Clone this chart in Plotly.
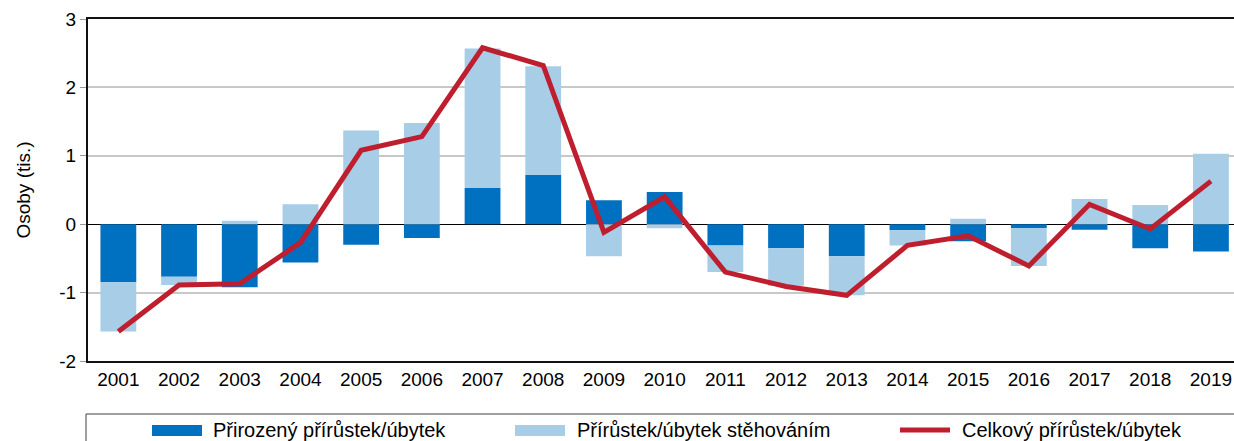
import plotly.graph_objects as go

years = [str(y) for y in range(2001, 2020)]
natural = [-0.85, -0.77, -0.92, -0.56, -0.30, -0.20, 0.53, 0.72, 0.35, 0.47,
           -0.31, -0.35, -0.47, -0.09, -0.25, -0.06, -0.08, -0.35, -0.40]
migration = [-0.72, -0.12, 0.05, 0.29, 1.37, 1.48, 2.04, 1.59, -0.47, -0.06,
             -0.39, -0.55, -0.57, -0.22, 0.08, -0.55, 0.37, 0.28, 1.03]
total = [-1.57, -0.89, -0.87, -0.27, 1.08, 1.28, 2.58, 2.32, -0.12, 0.40,
         -0.70, -0.91, -1.04, -0.31, -0.17, -0.61, 0.29, -0.07, 0.63]
y_ticks = [-2, -1, 0, 1, 2, 3]
y_tick_labels = ["-2", "-1", "0", "1", "2", "3"]

names = ["Přirozený přírůstek/úbytek", "Přírůstek/úbytek stěhováním", "Celkový přírůstek/úbytek"]
c_nat = "#0070C0"
c_mig = "#A7CDE7"
c_tot = "#BE1E2D"
FONT = "Liberation Sans, Arial, sans-serif"

W, H = 1234, 441
ML, MR, MT, MB = 88, 0, 19, 80
PW = W - ML - MR
PH = H - MT - MB

def px(x):
    return (x - ML) / PW

def py(y):
    return (H - MB - y) / PH

fig = go.Figure()
fig.add_trace(go.Bar(x=years, y=natural, name=names[0], marker=dict(color=c_nat, line=dict(width=0)), width=0.59))
fig.add_trace(go.Bar(x=years, y=migration, name=names[1], marker=dict(color=c_mig, line=dict(width=0)), width=0.59))
fig.add_trace(go.Scatter(x=years, y=total, name=names[2], mode="lines",
                         line=dict(color=c_tot, width=5)))

shapes = [
    dict(type="rect", xref="paper", yref="paper", x0=px(86), x1=1.02, y0=py(414), y1=py(460),
         line=dict(color="#404040", width=1), fillcolor="rgba(0,0,0,0)"),
    dict(type="rect", xref="paper", yref="paper", x0=px(152), x1=px(202), y0=py(436), y1=py(425),
         line=dict(width=0), fillcolor=c_nat),
    dict(type="rect", xref="paper", yref="paper", x0=px(515), x1=px(565), y0=py(436), y1=py(425),
         line=dict(width=0), fillcolor=c_mig),
    dict(type="line", xref="paper", yref="paper", x0=px(900), x1=px(950), y0=py(430), y1=py(430),
         line=dict(color=c_tot, width=5)),
]
annotations = []
for xpix, txt in [(213, names[0]), (577, names[1]), (962, names[2])]:
    annotations.append(dict(x=px(xpix), y=py(430), xref="paper", yref="paper", text=txt,
                            showarrow=False, xanchor="left", yanchor="middle", xshift=-2,
                            font=dict(family=FONT, size=20, color="#000")))

fig.update_layout(
    width=W, height=H,
    margin=dict(l=ML, r=MR, t=MT, b=MB),
    barmode="relative",
    bargap=0.4,
    showlegend=False,
    plot_bgcolor="white", paper_bgcolor="white",
    font=dict(family=FONT, size=19, color="#000"),
    shapes=shapes,
    annotations=annotations,
    xaxis=dict(type="category", range=[-0.5, 18.38], showline=True, mirror=True,
               linecolor="#111", linewidth=2, ticks="", showgrid=False,
               tickfont=dict(size=19), fixedrange=True),
    yaxis=dict(range=[-2, 3], tickvals=y_ticks, ticktext=y_tick_labels,
               showline=True, linecolor="#111", linewidth=2,
               ticks="outside", ticklen=6, tickcolor="#999", tickwidth=1,
               showgrid=True, gridcolor="#C8C8C8", gridwidth=1.5,
               zeroline=True, zerolinecolor="#000", zerolinewidth=1,
               title=dict(text="Osoby (tis.)", font=dict(size=19), standoff=24),
               tickfont=dict(size=19)),
)

fig.write_html("out.html", config={"displayModeBar": False},
               post_script="document.body.style.margin='0';document.body.style.overflow='hidden';")
